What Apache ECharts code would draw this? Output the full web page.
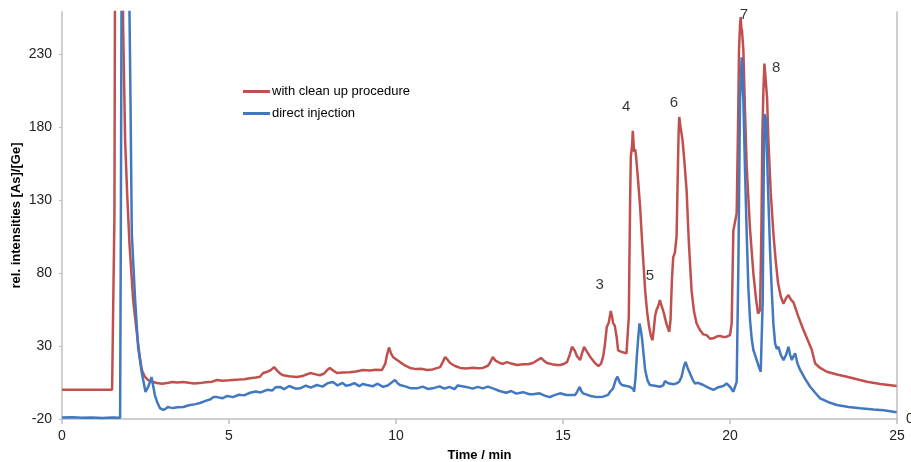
<!DOCTYPE html>
<html>
<head>
<meta charset="utf-8">
<script src="https://cdn.jsdelivr.net/npm/echarts@6/dist/echarts.min.js"></script>
<style>
html,body{margin:0;padding:0;background:#fff;}
#c{width:911px;height:462px;}
</style>
</head>
<body>
<div id="c"></div>
<script>
// ---- data ----
const seriesNames = ['with clean up procedure', 'direct injection'];

const redTime = [0,0.5,1.0,1.5,1.55,1.57,1.6,1.7,1.8,1.83,1.89,1.95,2.02,2.13,2.24,2.32,2.39,2.48,2.58,2.7,2.84,3.0,3.14,3.3,3.45,3.62,3.8,3.95,4.13,4.3,4.5,4.64,4.8,5.0,5.12,5.3,5.45,5.63,5.8,5.93,6.02,6.15,6.25,6.35,6.45,6.55,6.62,6.8,7.03,7.2,7.43,7.6,7.72,7.85,7.95,8.02,8.12,8.23,8.4,8.62,8.8,9.01,9.2,9.4,9.58,9.68,9.73,9.79,9.85,9.91,10.0,10.12,10.25,10.42,10.6,10.75,10.93,11.1,11.32,11.4,11.47,11.55,11.62,11.75,11.92,12.1,12.3,12.45,12.6,12.75,12.81,12.9,12.98,13.11,13.2,13.32,13.45,13.62,13.8,13.95,14.1,14.25,14.34,14.43,14.52,14.67,14.82,14.91,15.0,15.12,15.2,15.27,15.35,15.42,15.51,15.57,15.63,15.72,15.81,15.95,16.06,16.14,16.2,16.25,16.31,16.37,16.43,16.47,16.5,16.55,16.61,16.65,16.75,16.9,16.95,16.97,16.99,17.01,17.03,17.07,17.09,17.11,17.13,17.16,17.19,17.25,17.31,17.38,17.46,17.52,17.58,17.63,17.68,17.72,17.76,17.8,17.86,17.9,17.96,18.02,18.1,18.18,18.22,18.26,18.3,18.35,18.4,18.43,18.46,18.48,18.52,18.58,18.64,18.7,18.77,18.85,18.92,19.0,19.1,19.2,19.3,19.4,19.5,19.6,19.7,19.8,19.9,20.0,20.05,20.1,20.15,20.2,20.24,20.27,20.3,20.32,20.34,20.36,20.4,20.45,20.5,20.6,20.7,20.78,20.84,20.9,20.94,20.97,21.0,21.03,21.05,21.08,21.11,21.15,21.22,21.3,21.37,21.44,21.52,21.6,21.68,21.75,21.82,21.9,22.05,22.2,22.33,22.45,22.55,22.7,22.9,23.2,23.5,23.8,24.1,24.5,24.99];
const redValue = [0,0,0,0,0,120,400,600,400,250,171,135,100,61.5,39,24,13.6,9,6.7,5.5,4.7,4.2,4.6,5.3,5.0,5.3,4.8,4.4,4.6,5.2,5.6,6.7,6.2,6.5,6.7,7.0,7.3,8.0,8.5,9.0,11.5,12.4,13.5,15.6,13,10.8,10,9.3,8.8,9.5,11.5,10.6,10,11.2,13.8,15,13.2,11.5,11.8,12,12.6,13.6,13.3,13.8,13.6,18,23.8,29,25,22.5,21,19,17,15,14.2,14.5,13.6,14,15.6,19,22.5,20.5,18.4,16.5,15,14.6,15.2,14.8,15,16.5,18.4,22.5,20,18.4,17.8,19,18,17,17.6,17.5,18.4,20.5,21.8,20,18.4,17.6,17,17,17.5,19,24,29.5,27,23,20.4,25,29.5,26,22.7,18.5,16.3,18,22.7,30,43,46,54,50,45.7,44,35.5,27,26,25,23.8,50,91,130,159.6,168,177.5,170,163,165,159.6,143,125,97,68,53,43,37,34,42,51,54.7,58,61.5,57,52.6,45,39.8,48,75,91,94,105,140,175,187,180,171,155,137,100,68,54,45.5,41,38,37.5,35,35.3,36.5,37,36.2,36.4,37.5,45.5,109,115,121,180,233,250,255.5,248,246,233,190,153,110,79.8,62,52.3,54.7,110,175.6,205,223.6,218,216.7,200,171,135,107,88,73,64,59,63,65,62,60,50,41,34,27.3,18,15,12.4,10.5,9,7.2,5.5,4,2.6];

const blueTime = [0,0.3,0.6,0.9,1.2,1.5,1.74,1.76,1.8,1.9,2.0,2.05,2.09,2.19,2.28,2.39,2.5,2.58,2.63,2.68,2.72,2.78,2.85,2.93,3.03,3.1,3.17,3.25,3.33,3.45,3.63,3.8,4.0,4.13,4.3,4.45,4.53,4.64,4.8,4.95,5.12,5.3,5.45,5.63,5.8,5.95,6.14,6.3,6.4,6.53,6.65,6.8,7.0,7.13,7.3,7.45,7.63,7.8,7.95,8.11,8.25,8.4,8.5,8.62,8.75,8.9,9.0,9.13,9.3,9.45,9.61,9.75,9.9,9.97,10.05,10.12,10.3,10.45,10.63,10.8,10.95,11.1,11.3,11.45,11.6,11.75,11.85,12.1,12.3,12.45,12.6,12.75,12.9,13.1,13.3,13.45,13.6,13.8,14.0,14.1,14.3,14.45,14.6,14.75,14.91,15.1,15.36,15.43,15.5,15.55,15.6,15.8,16.0,16.2,16.35,16.41,16.5,16.58,16.63,16.7,16.76,16.9,17.0,17.1,17.13,17.17,17.21,17.25,17.29,17.32,17.36,17.41,17.46,17.53,17.6,17.75,17.9,18.0,18.05,18.09,18.15,18.2,18.3,18.4,18.48,18.55,18.62,18.67,18.73,18.8,18.88,18.95,19.05,19.2,19.35,19.5,19.65,19.8,19.9,20.0,20.1,20.2,20.25,20.3,20.35,20.4,20.45,20.5,20.55,20.6,20.65,20.7,20.8,20.86,20.92,20.98,21.01,21.03,21.06,21.08,21.11,21.15,21.2,21.25,21.3,21.35,21.4,21.45,21.52,21.6,21.68,21.75,21.8,21.85,21.9,21.95,22.02,22.1,22.25,22.4,22.55,22.7,22.95,23.2,23.55,23.9,24.3,24.6,24.99];
const blueValue = [-19,-18.8,-19.2,-19,-19.3,-19,-19.2,100,400,500,300,200,107,61.5,29,11.5,-1.5,2,5,8.8,4,-3.6,-8.5,-12.5,-13.8,-13,-11.8,-12.2,-12.5,-12,-11.8,-10.6,-9.8,-9,-7.6,-6.5,-5,-5,-5.8,-4.2,-5,-3.4,-3.8,-2,-1.2,-1.8,0,-0.4,1.8,2,0.5,2.6,0.8,1,2.8,1.5,3.3,2.2,4.5,5.3,3,4.8,2.8,3.3,4.6,2.5,4,3.3,2.4,4.2,2,3,5.5,6.7,4.5,3.3,2.2,1,1,2.2,0.6,1,2.4,0.8,2,0.5,3,2,0.8,2,1,2.2,1,-0.8,-2,-0.8,-2.6,-1.6,-3,-3,-2.4,-4,-5,-3.6,-2.4,-3.6,-3.6,-1,2,-1,-2.4,-4,-5,-4.7,-3.5,-1.3,1,7,9,5,3.3,2.6,2.1,0.5,-1.3,8,22.7,35,45.5,42,36.4,25,13.6,6.5,3.3,2.8,2.1,3,6,6.7,4.5,3.3,3.8,4.4,5.5,9,16,19.2,15,11.3,7,4.4,4.8,3.3,1.5,-0.1,1.8,2.6,4.4,2.1,-1.3,5.5,84,198.5,228,198.5,150,107,70,47.8,35,27.3,20.4,16,12.4,61.5,150,189,187,185,160,130,95,68,45,31.8,28,29.5,24,20.4,24,29.5,24,20.4,23,25,18,13.6,7.5,2.1,-2,-5.9,-8.5,-10.4,-11.7,-12.7,-13.5,-14,-15.4];

// peak annotations (label, time, intensity position)
const peakLabels = ['3','4','5','6','7','8'];
const peakTimes  = [16.1, 16.89, 17.6, 18.32, 20.42, 21.38];
const peakValues = [71.8, 193.7, 78, 197, 256.7, 221];

const xTicks = {min: 0, max: 25, interval: 5};
const yTicks = {min: -20, max: 259, interval: 50};

// ---- build ----
const zip = (a, b) => a.map((v, i) => [v, b[i]]);
const RED = '#C0504D', BLUE = '#4178C0';
const FONT = '"Liberation Sans", Arial, sans-serif';

const chart = echarts.init(document.getElementById('c'));
chart.setOption({
  animation: false,
  backgroundColor: '#fff',
  grid: {left: 62, right: 14, top: 12, bottom: 43, containLabel: false, outerBoundsMode: 'none'},
  legend: {
    orient: 'vertical', left: 238, top: 80, itemGap: 9,
    itemWidth: 27, itemHeight: 3, icon: 'rect',
    data: seriesNames,
    textStyle: {fontFamily: FONT, fontSize: 13, color: '#000', padding: [0, 0, 0, -3]}
  },
  xAxis: {
    type: 'value', min: xTicks.min, max: xTicks.max, interval: xTicks.interval,
    name: 'Time / min', nameLocation: 'middle', nameGap: 30, nameMoveOverlap: false,
    nameTextStyle: {fontFamily: FONT, fontSize: 13, fontWeight: 'bold', color: '#000'},
    axisLine: {show: true, onZero: false, lineStyle: {color: '#BFBFBF', width: 1.5}},
    axisTick: {show: true, length: 5, lineStyle: {color: '#BFBFBF', width: 1.5}},
    axisLabel: {fontFamily: FONT, fontSize: 14, color: '#222', margin: 10},
    splitLine: {show: false}
  },
  yAxis: [{
    type: 'value', min: yTicks.min, max: yTicks.max, interval: yTicks.interval,
    name: 'rel. intensities [As]/[Ge]', nameLocation: 'middle', nameGap: 39, nameMoveOverlap: false,
    nameTextStyle: {fontFamily: FONT, fontSize: 13, fontWeight: 'bold', color: '#000'},
    axisLine: {show: true, lineStyle: {color: '#BFBFBF', width: 1.5}},
    axisTick: {show: true, length: 3, lineStyle: {color: '#BFBFBF', width: 1}},
    axisLabel: {fontFamily: FONT, fontSize: 14, color: '#222', margin: 10, showMaxLabel: false},
    splitLine: {show: false}
  }, {
    type: 'value', position: 'right', min: 0, max: 1, interval: 1,
    axisLine: {show: true, lineStyle: {color: '#BFBFBF', width: 1.5}},
    axisTick: {show: false},
    axisLabel: {fontFamily: FONT, fontSize: 14, color: '#222', margin: 9, showMaxLabel: false},
    splitLine: {show: false}
  }],
  series: [{
    name: seriesNames[0], type: 'line', data: zip(redTime, redValue),
    showSymbol: false, symbol: 'none', clip: true,
    lineStyle: {color: RED, width: 2.5}, itemStyle: {color: RED}, z: 2
  }, {
    name: seriesNames[1], type: 'line', data: zip(blueTime, blueValue),
    showSymbol: false, symbol: 'none', clip: true,
    lineStyle: {color: BLUE, width: 2.5}, itemStyle: {color: BLUE}, z: 3
  }, {
    name: 'peaks', type: 'scatter', data: zip(peakTimes, peakValues),
    symbolSize: 0, silent: true, z: 5,
    label: {
      show: true, position: 'inside',
      formatter: p => peakLabels[p.dataIndex],
      fontFamily: FONT, fontSize: 15, color: '#000'
    }
  }]
});
</script>
</body>
</html>
